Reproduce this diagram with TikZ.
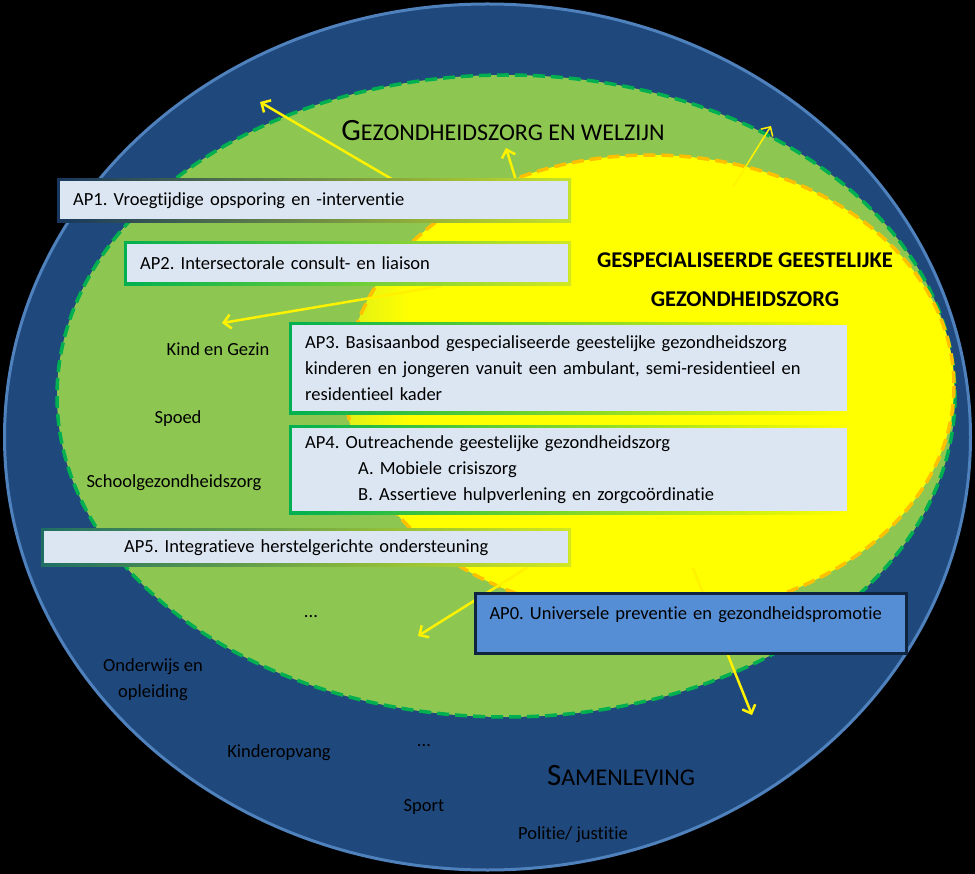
\documentclass[tikz,border=0pt]{standalone}
\usepackage{fontspec}
\setmainfont{Carlito}[Ligatures=NoCommon]
\usetikzlibrary{arrows.meta}
\frenchspacing

\definecolor{societyblue}{RGB}{31,73,125}
\definecolor{rimblue}{RGB}{79,129,189}
\definecolor{carefill}{RGB}{141,199,82}
\definecolor{caredash}{RGB}{0,176,80}
\definecolor{mentalfill}{RGB}{255,255,0}
\definecolor{mentaldash}{RGB}{255,192,0}
\definecolor{boxfill}{RGB}{220,230,242}
\definecolor{boxnavy}{RGB}{23,55,94}
\definecolor{boxteal}{RGB}{30,110,100}
\definecolor{apzerofill}{RGB}{85,142,213}
\definecolor{apzeroline}{RGB}{15,36,62}

\begin{document}
\begin{tikzpicture}[x=1pt,y=-1pt,
    every node/.style={text=black, inner sep=0pt},
    lbl/.style={font=\fontsize{18.5}{26}\selectfont, align=center},
    flow/.style={draw=yellow, line width=2.5pt,
      -{Straight Barb[length=7pt,width=14pt]}},
    apbox/.style n args={3}{anchor=north west, fill=boxfill, inner xsep=16pt,
      align=left, font=\fontsize{18.5}{26}\selectfont,
      path picture={
        \shade[left color=#1, middle color=#2, right color=#3]
          (path picture bounding box.south west) rectangle (path picture bounding box.north east);
        \fill[boxfill] ([shift={(3pt,3pt)}]path picture bounding box.south west)
          rectangle ([shift={(-3pt,-3pt)}]path picture bounding box.north east);}}]

% Background
\fill[black] (0,0) rectangle (975,874);

%========================
% Circles
%========================

% Samenleving
\fill[societyblue] (487.5,437) ellipse [x radius=483, y radius=433];
\draw[rimblue, line width=3pt] (487.5,437) ellipse [x radius=483, y radius=433];

% Gezondheidszorg en welzijn
\fill[carefill] (506,396) ellipse [x radius=449, y radius=321];
\draw[caredash, line width=3.5pt, dash pattern=on 12pt off 6pt] (506,396) ellipse [x radius=449, y radius=321];

% Gespecialiseerde GGZ
\begin{scope}
\clip (650,386) ellipse [x radius=304, y radius=231];
\fill[mentalfill] (340,150) rectangle (960,620);
\shade[left color=carefill!30!mentalfill, right color=mentalfill] (340,150) rectangle (410,620);
\end{scope}
\draw[mentaldash, line width=3.5pt, dash pattern=on 12pt off 6pt] (650,386) ellipse [x radius=304, y radius=231];

%========================
% Arrows
%========================
\coordinate (t1) at (467,223);
\coordinate (h1) at (260,102);
\coordinate (t2) at (519,190);
\coordinate (h2) at (506,148);
\coordinate (t3) at (733,187);
\coordinate (h3) at (771,126);
\coordinate (t4) at (442,286);
\coordinate (h4) at (222,323);
\coordinate (t5) at (528,567);
\coordinate (h5) at (418,636);
\coordinate (t6) at (693,568);
\coordinate (h6) at (752,715);

\draw[flow] (t1) -- (h1);
\draw[flow] (t2) -- (h2);
\draw[flow, line width=1.5pt] (t3) -- (h3);
\draw[flow] (t4) -- (h4);
\draw[flow] (t5) -- (h5);
\draw[flow] (t6) -- (h6);

%========================
% Labels
%========================
\node (care) at (503,131) {{\fontsize{31}{31}\selectfont G}{\fontsize{24}{24}\selectfont EZONDHEIDSZORG EN WELZIJN}};
\node[align=center, font=\fontsize{22.5}{39}\selectfont\bfseries] (spec) at (745,280) {GESPECIALISEERDE GEESTELIJKE\\GEZONDHEIDSZORG};
\node (society) at (621,776) {{\fontsize{31}{31}\selectfont S}{\fontsize{24}{24}\selectfont AMENLEVING}};

\node[lbl] (kind) at (218,349) {Kind en Gezin};
\node[lbl] (spoed) at (178,419) {Spoed};
\node[lbl] (school) at (174,483) {Schoolgezondheidszorg};
\node[lbl] (dotsa) at (311,617) {...};
\node[lbl] (onderwijs) at (153,680) {Onderwijs en\\opleiding};
\node[lbl] (kinder) at (279,753) {Kinderopvang};
\node[lbl] (dotsb) at (424,746) {...};
\node[lbl] (sport) at (424,807) {Sport};
\node[lbl] (politie) at (573,835) {Politie/ justitie};

%========================
% Action points
%========================
\node[apbox={boxnavy}{caredash}{yellow!50!carefill}, text width=482pt, minimum height=44pt] (ap1) at (57,178)
  {AP1. Vroegtijdige opsporing en -interventie};
\node[apbox={caredash}{carefill}{yellow!60!carefill}, text width=415pt, minimum height=44pt] (ap2) at (124,241)
  {AP2. Intersectorale consult- en liaison};
\node[apbox={caredash}{yellow}{yellow}, text width=529pt, minimum height=92pt] (ap3) at (289,322)
  {AP3. Basisaanbod gespecialiseerde geestelijke gezondheidszorg\\
   kinderen en jongeren vanuit een ambulant, semi-residentieel en\\
   residentieel kader};
\node[apbox={caredash}{yellow}{yellow}, text width=529pt, minimum height=89pt] (ap4) at (289,425)
  {AP4. Outreachende geestelijke gezondheidszorg\\
   \hspace*{53pt}A. Mobiele crisiszorg\\
   \hspace*{53pt}B. Assertieve hulpverlening en zorgcoördinatie};
\node[apbox={boxteal}{caredash}{yellow!60!carefill}, align=center, text width=498pt, minimum height=38pt] (ap5) at (41,528)
  {AP5. Integratieve herstelgerichte ondersteuning};

\node[anchor=north west, fill=apzerofill, draw=apzeroline, line width=3pt,
  font=\fontsize{18.5}{20}\selectfont, align=left, inner xsep=14pt, inner ysep=4pt,
  text width=403pt, text height=22pt, text depth=30pt] (ap0) at (474,592)
  {AP0. Universele preventie en gezondheidspromotie};

\end{tikzpicture}
\end{document}
